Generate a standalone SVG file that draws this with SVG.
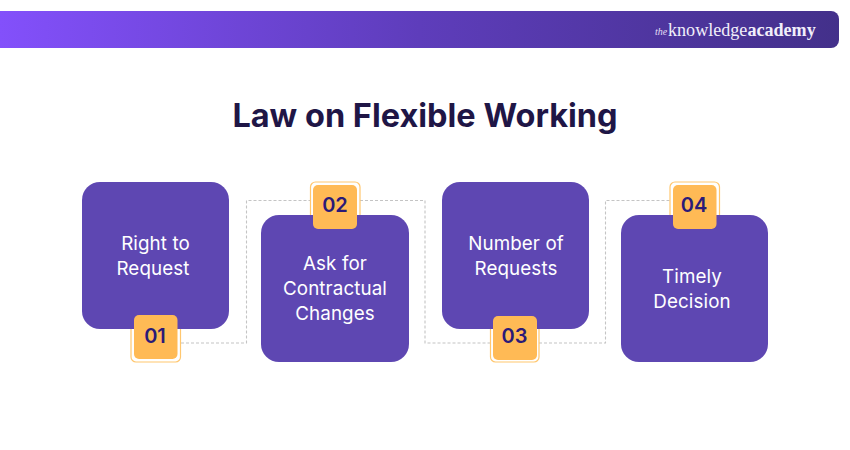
<svg xmlns="http://www.w3.org/2000/svg" width="850" height="450" viewBox="0 0 850 450">
<style>
text{font-family:"Inter","Noto Sans","Liberation Sans",sans-serif}
.card{fill:#5e47b2}
.lbl{font-size:18.800px;letter-spacing:.1px;fill:#fff;text-anchor:middle}
.num{font-size:20px;font-weight:600;fill:#2a1a78;text-anchor:middle}
.badge{fill:#ffba55}
.halo{fill:none;stroke:#ffc76f;stroke-width:1.2}
.dash{fill:none;stroke:#c4c4c4;stroke-width:1.1;stroke-dasharray:3 2}
text.logo{font-family:"Liberation Serif",serif;font-size:18.100px;fill:#f1eefa}
text.the{font-family:"Liberation Serif",serif;font-size:10px;font-style:italic;fill:#e4dff5}
</style>
<defs><linearGradient id="hg" x1="0" y1="0" x2="1" y2="0"><stop offset="0" stop-color="#8350fb"/><stop offset="0.5" stop-color="#5e3dbb"/><stop offset="1" stop-color="#43308a"/></linearGradient></defs>
<g id="header">
<path d="M0 11H831a8 8 0 0 1 8 8V40a8 8 0 0 1-8 8H0Z" fill="url(#hg)"/>
<text class="the" x="655" y="35">the</text>
<text class="logo" x="668" y="36">knowledge<tspan font-weight="700">academy</tspan></text>
</g>
<text id="title" x="425" y="127" text-anchor="middle" style="font-size:32.500px;font-weight:700;fill:#1f1646">Law on Flexible Working</text>
<g id="connectors">
<path class="dash" d="M181 343H246.500V200.500H310"/>
<path class="dash" d="M360 200.500H425V343H490"/>
<path class="dash" d="M539 343H605.500V200.500H670"/>
</g>
<g id="node1">
<rect class="card" x="82" y="182" width="147" height="147" rx="18"/>
<text class="lbl" x="155.500" y="249.500">Right to</text><text class="lbl" x="153" y="274.500">Request</text>
<path class="halo" d="M131 329V357a5 5 0 0 0 5 5H175.500a5 5 0 0 0 5-5V329"/>
<rect class="badge" x="134" y="315" width="43.500" height="44" rx="5"/>
<text class="num" x="155" y="343">01</text>
</g>
<g id="node2">
<rect class="card" x="261" y="215" width="148" height="147" rx="18"/>
<text class="lbl" x="335" y="269.500">Ask for</text><text class="lbl" x="335" y="294.500">Contractual</text><text class="lbl" x="335" y="319.500">Changes</text>
<path class="halo" d="M310.500 215V187a5 5 0 0 1 5-5H355a5 5 0 0 1 5 5V215"/>
<rect class="badge" x="313" y="185" width="44" height="44" rx="5"/>
<text class="num" x="335" y="212">02</text>
</g>
<g id="node3">
<rect class="card" x="442" y="182" width="147" height="147" rx="18"/>
<text class="lbl" x="516" y="249.500">Number of</text><text class="lbl" x="516" y="274.500">Requests</text>
<path class="halo" d="M490.500 329V357a5 5 0 0 0 5 5H534a5 5 0 0 0 5-5V329"/>
<rect class="badge" x="493" y="316" width="44" height="44" rx="5"/>
<text class="num" x="514.500" y="343">03</text>
</g>
<g id="node4">
<rect class="card" x="621" y="215" width="147" height="147" rx="18"/>
<text class="lbl" x="692" y="282.500">Timely</text><text class="lbl" x="692" y="307.500">Decision</text>
<path class="halo" d="M670 215V187a5 5 0 0 1 5-5H714.500a5 5 0 0 1 5 5V215"/>
<rect class="badge" x="673" y="185" width="43.500" height="44" rx="5"/>
<text class="num" x="694" y="212">04</text>
</g>
</svg>
